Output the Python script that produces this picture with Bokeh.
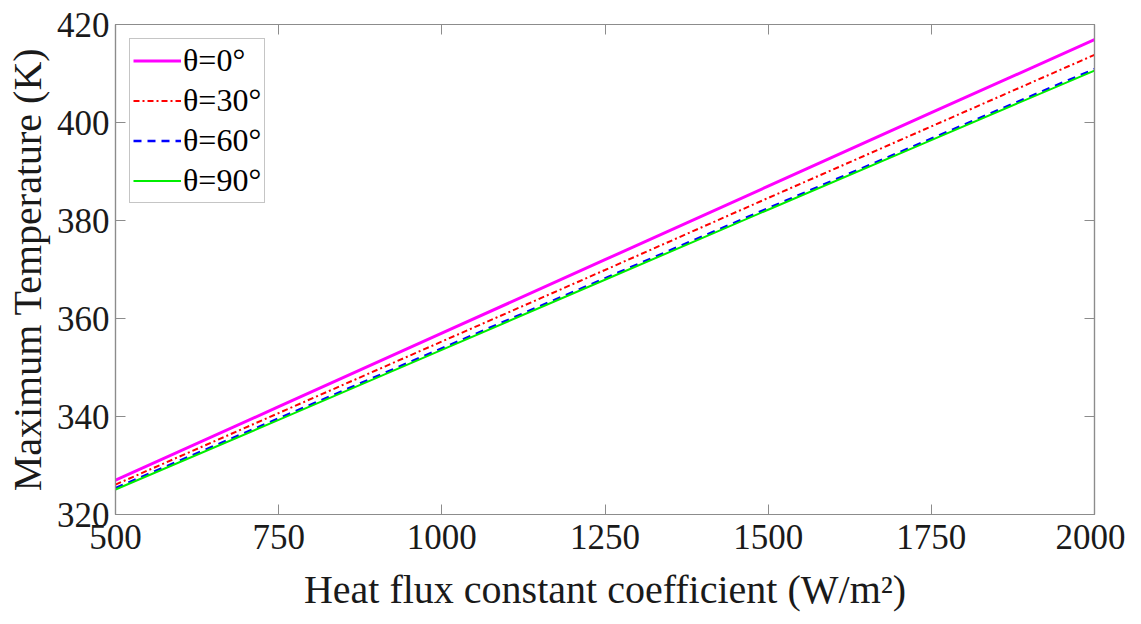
from bokeh.plotting import figure
from bokeh.models import Range1d, FixedTicker, LinearAxis, Legend, LegendItem
from bokeh.embed import file_html
from bokeh.resources import INLINE

flux = [500, 750, 1000, 1250, 1500, 1750, 2000]
t0 = [327.0, 342.0, 357.0, 372.0, 387.0, 402.0, 416.9]
t30 = [326.1, 340.7, 355.3, 369.9, 384.6, 399.2, 413.8]
t60 = [325.4, 339.6, 353.9, 368.2, 382.5, 396.7, 410.9]
t90 = [325.1, 339.3, 353.6, 367.9, 382.2, 396.4, 410.6]
labels = ["θ=0°", "θ=30°", "θ=60°", "θ=90°"]
x_ticks = [500, 750, 1000, 1250, 1500, 1750, 2000]
y_ticks = [320, 340, 360, 380, 400, 420]

FONT = "Liberation Serif"
AX = "#8c8c8c"
TXT = "#1a1a1a"

p = figure(width=1125, height=616, output_backend="svg", toolbar_location=None,
           x_range=Range1d(500, 2000), y_range=Range1d(320, 420),
           min_border_left=115, min_border_right=31, min_border_top=24, min_border_bottom=102)
p.grid.visible = False
p.outline_line_color = AX
p.outline_line_width = 1.2

def style(ax):
    ax.axis_line_color = AX
    ax.axis_line_width = 1.2
    ax.major_tick_line_color = AX
    ax.major_tick_in = 10
    ax.major_tick_out = 0
    ax.minor_tick_line_color = None
    ax.major_label_text_font = FONT
    ax.major_label_text_font_size = "35px"
    ax.major_label_text_color = TXT
    ax.axis_label_text_font = FONT
    ax.axis_label_text_font_style = "normal"
    ax.axis_label_text_color = TXT

p.xaxis.ticker = FixedTicker(ticks=x_ticks)
p.yaxis.ticker = FixedTicker(ticks=y_ticks)
style(p.xaxis[0])
style(p.yaxis[0])
p.xaxis.axis_label = "Heat flux constant coefficient (W/m²)"
p.yaxis.axis_label = "Maximum Temperature (K)"
p.xaxis.axis_label_text_font_size = "40px"
p.yaxis.axis_label_text_font_size = "40px"
p.xaxis.major_label_standoff = 10
p.yaxis.major_label_standoff = 6
p.xaxis.axis_label_standoff = 15
p.yaxis.axis_label_standoff = 4

top = LinearAxis(ticker=FixedTicker(ticks=x_ticks))
style(top)
top.major_label_overrides = {t: "" for t in x_ticks}
top.major_label_standoff = 0
p.add_layout(top, "above")
right = LinearAxis(ticker=FixedTicker(ticks=y_ticks))
style(right)
right.major_label_overrides = {t: "" for t in y_ticks}
right.major_label_standoff = 0
p.add_layout(right, "right")

r0 = p.line(flux, t0, line_color="#ff00ff", line_width=3)
r1 = p.line(flux, t30, line_color="#ff0000", line_width=2, line_dash="6 3 2 3")
r2 = p.line(flux, t60, line_color="#0000ff", line_width=2.5, line_dash="8 6")
r3 = p.line(flux, t90, line_color="#00ee00", line_width=2)

legend = Legend(items=[LegendItem(label=l, renderers=[r]) for l, r in zip(labels, [r0, r1, r2, r3])],
                location="top_left")
legend.label_text_font = FONT
legend.label_text_font_size = "32px"
legend.label_text_color = "#000000"
legend.border_line_color = AX
legend.border_line_width = 1.2
legend.glyph_width = 48
legend.glyph_height = 31
legend.label_height = 31
legend.spacing = 3
legend.padding = 3
legend.margin = 14
legend.label_standoff = 2
p.add_layout(legend)

open("out.html", "w").write(file_html(p, INLINE))
